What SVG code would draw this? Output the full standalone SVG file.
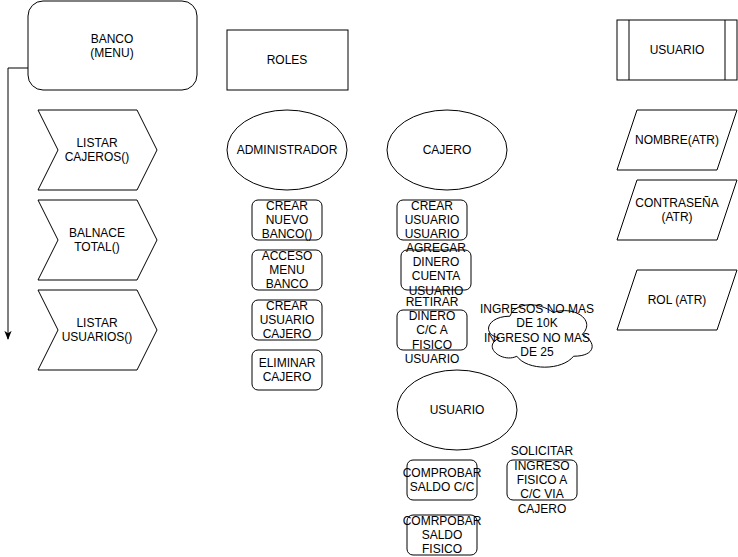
<svg xmlns="http://www.w3.org/2000/svg" width="738" height="557" viewBox="0 0 738 557">
<defs>
<style>
.s{fill:#fff;stroke:#000;stroke-width:1}
text{font-family:"Liberation Sans",Arial,sans-serif;font-size:12px;fill:#000;text-anchor:middle}
.c{fill:none;stroke:#000;stroke-width:1}
</style>
<marker id="arr" viewBox="0 0 10 10" refX="9" refY="5" markerWidth="9" markerHeight="9" markerUnits="userSpaceOnUse" orient="auto">
<path d="M0,1 L10,5 L0,9 L2.5,5 Z" fill="#000"/>
</marker>
</defs>
<rect width="738" height="557" fill="#fff"/>
<g id="connectors">
<path class="c" d="M28,68 H8 V339" marker-end="url(#arr)"/>
</g>
<g id="banco"><rect class="s" x="28" y="1" width="169" height="89" rx="15"/><text x="112" y="42.5">BANCO</text><text x="112" y="57">(MENU)</text></g>
<g id="roles"><rect class="s" x="227" y="30" width="121" height="60"/><text x="287" y="64">ROLES</text></g>
<g id="listar-cajeros"><path class="s" d="M38,110 H137 L157,150 L137,190 H38 L58,150 Z"/><text x="97" y="147">LISTAR</text><text x="97" y="161.4">CAJEROS()</text></g>
<g id="balance"><path class="s" d="M38,200 H137 L157,240 L137,280 H38 L58,240 Z"/><text x="97" y="237">BALNACE</text><text x="97" y="251.4">TOTAL()</text></g>
<g id="listar-usuarios"><path class="s" d="M38,290 H137 L157,330 L137,370 H38 L58,330 Z"/><text x="97" y="327">LISTAR</text><text x="97" y="341.4">USUARIOS()</text></g>
<g id="administrador"><ellipse class="s" cx="287" cy="150" rx="60" ry="40"/><text x="287" y="154">ADMINISTRADOR</text></g>
<g id="crear-banco"><rect class="s" x="252" y="200" width="70" height="40" rx="6"/><text x="287" y="209.6">CREAR</text><text x="287" y="224">NUEVO</text><text x="287" y="238.4">BANCO()</text></g>
<g id="acceso-menu"><rect class="s" x="252" y="250" width="70" height="40" rx="6"/><text x="287" y="259.6">ACCESO</text><text x="287" y="274">MENU</text><text x="287" y="288.4">BANCO</text></g>
<g id="crear-cajero"><rect class="s" x="252" y="300" width="70" height="40" rx="6"/><text x="287" y="309.6">CREAR</text><text x="287" y="324">USUARIO</text><text x="287" y="338.4">CAJERO</text></g>
<g id="eliminar-cajero"><rect class="s" x="252" y="350" width="70" height="40" rx="6"/><text x="287" y="366.8">ELIMINAR</text><text x="287" y="381.2">CAJERO</text></g>
<g id="cajero"><ellipse class="s" cx="447" cy="150" rx="60" ry="40"/><text x="447" y="154">CAJERO</text></g>
<g id="crear-usuario"><rect class="s" x="397" y="200" width="70" height="40" rx="6"/><text x="432" y="209.6">CREAR</text><text x="432" y="224">USUARIO</text><text x="432" y="238.4">USUARIO</text></g>
<g id="agregar-dinero"><rect class="s" x="401" y="250" width="70" height="40" rx="6"/><text x="436" y="251.6">AGREGAR</text><text x="436" y="265.9">DINERO</text><text x="436" y="280.2">CUENTA</text><text x="436" y="294.5">USUARIO</text></g>
<g id="retirar-dinero"><rect class="s" x="397" y="310" width="70" height="40" rx="6"/><text x="432" y="305.6">RETIRAR</text><text x="432" y="319.9">DINERO</text><text x="432" y="334.2">C/C A</text><text x="432" y="348.5">FISICO</text><text x="432" y="362.8">USUARIO</text></g>
<g id="nota-ingresos"><path class="s" vector-effect="non-scaling-stroke" transform="translate(481,298) scale(0.964,0.91)" d="M 30 20 C 6 20 0 40 19.2 44 C 0 52.8 21.6 72 37.2 64 C 48 80 84 80 96 64 C 120 64 120 48 105 40 C 120 24 96 8 75 16 C 60 4 36 4 30 20 Z"/><text x="537" y="312.5">INGRESOS NO MAS</text><text x="537" y="327">DE 10K</text><text x="537" y="341.5">INGRESO NO MAS</text><text x="537" y="356">DE 25</text></g>
<g id="usuario-rol"><ellipse class="s" cx="457" cy="410" rx="60" ry="40"/><text x="457" y="414">USUARIO</text></g>
<g id="comprobar-cc"><rect class="s" x="407" y="460" width="70" height="40" rx="6"/><text x="442" y="476.8">COMPROBAR</text><text x="442" y="491.2">SALDO C/C</text></g>
<g id="comprobar-fisico"><rect class="s" x="407" y="515" width="70" height="40" rx="6"/><text x="442" y="524.6">COMRPOBAR</text><text x="442" y="539">SALDO</text><text x="442" y="553.4">FISICO</text></g>
<g id="solicitar"><rect class="s" x="507" y="460" width="70" height="40" rx="6"/><text x="542" y="455.2">SOLICITAR</text><text x="542" y="469.6">INGRESO</text><text x="542" y="484">FISICO A</text><text x="542" y="498.4">C/C VIA</text><text x="542" y="512.8">CAJERO</text></g>
<g id="usuario-clase"><rect class="s" x="617" y="20" width="120" height="60"/><path class="c" d="M629,20 V80 M725,20 V80"/><text x="677" y="54">USUARIO</text></g>
<g id="nombre"><path class="s" d="M637,110 H737 L717,170 H617 Z"/><text x="677" y="144">NOMBRE(ATR)</text></g>
<g id="contrasena"><path class="s" d="M637,180 H737 L717,240 H617 Z"/><text x="677" y="206.8">CONTRASEÑA</text><text x="677" y="221.2">(ATR)</text></g>
<g id="rol"><path class="s" d="M637,270 H737 L717,330 H617 Z"/><text x="677" y="304">ROL (ATR)</text></g>
</svg>
